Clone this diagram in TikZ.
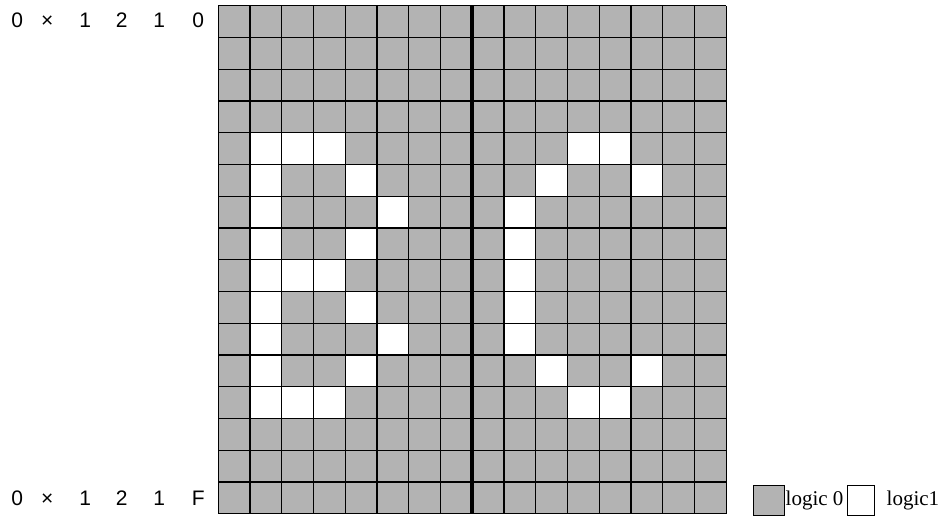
\documentclass[tikz,border=0pt]{standalone}
\usepackage{fontspec}
\setmainfont{Liberation Serif}
\newfontfamily\arialf{Liberation Sans}
\definecolor{cellgray}{RGB}{179,179,179}
\newcommand{\hc}[1]{\makebox[0pt][c]{#1}}
\begin{document}
\begin{tikzpicture}[x=1pt,y=-1pt,
  gridline/.style={line width=1.3pt,black},
  hexlabel/.style={anchor=west,inner sep=0pt,font=\arialf\fontsize{21}{24}\selectfont},
  legbox/.style={draw=black,line width=1pt,inner sep=0pt,minimum width=30pt,minimum height=30pt,anchor=north west},
  legtext/.style={anchor=base west,inner sep=0pt,font=\fontsize{21}{24}\selectfont}]
\useasboundingbox (0,0) rectangle (943,518);
\def\s{31.75}
\def\gx{218.3}
\def\gy{5.7}
\fill[cellgray] (\gx,\gy) rectangle ++(16*\s,16*\s);
\foreach \r/\c in {4/1,4/2,4/3,5/1,5/4,6/1,6/5,7/1,7/4,8/1,8/2,8/3,9/1,9/4,10/1,10/5,11/1,11/4,12/1,12/2,12/3,
                   4/11,4/12,5/10,5/13,6/9,7/9,8/9,9/9,10/9,11/10,11/13,12/11,12/12}
  \fill[white] ({\gx+\c*\s},{\gy+\r*\s}) rectangle ++(\s,\s);
\foreach \i in {0,...,16} {
  \draw[gridline] ({\gx+\i*\s},\gy) -- ++(0,16*\s);
  \draw[gridline] (\gx,{\gy+\i*\s}) -- ++(16*\s,0);
}
\draw[line width=4pt] ({\gx+8*\s},\gy) -- ++(0,16*\s);
\node[hexlabel] (toplabel) at (17,20.5) {\hc{0}\hspace{30pt}\hc{×}\hspace{38pt}\hc{1}\hspace{36.5pt}\hc{2}\hspace{37.5pt}\hc{1}\hspace{39pt}\hc{0}};
\node[hexlabel] (botlabel) at (17,498.5) {\hc{0}\hspace{30pt}\hc{×}\hspace{38pt}\hc{1}\hspace{36.5pt}\hc{2}\hspace{37.5pt}\hc{1}\hspace{39pt}\hc{F}};
\node[legbox,fill=cellgray,minimum width=31pt] (graybox) at (753,485) {};
\node[legtext] (logic0) at (785.5,506) {logic 0};
\node[legbox,fill=white,minimum width=27pt] (whitebox) at (847,485) {};
\node[legtext] (logic1) at (886.5,506) {logic1};
\end{tikzpicture}
\end{document}
